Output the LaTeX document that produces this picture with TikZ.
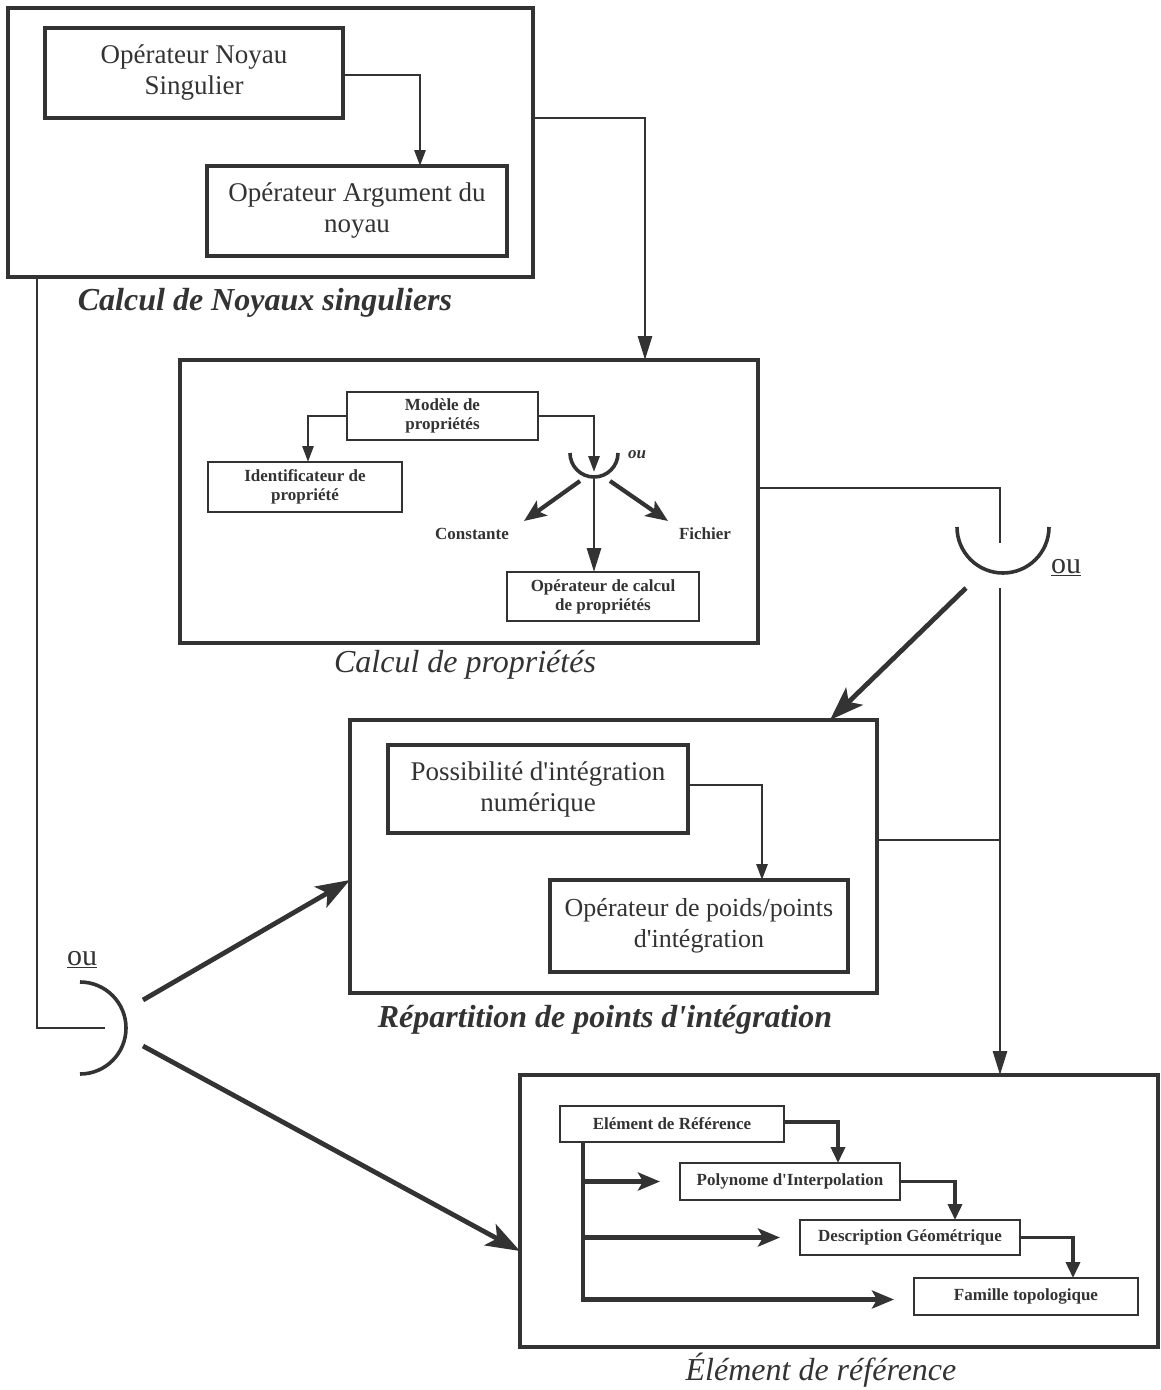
\documentclass[tikz,border=0pt]{standalone}
\usepackage{fontspec}
\setmainfont{Liberation Serif}
\usetikzlibrary{arrows.meta,calc}
\definecolor{ink}{rgb}{0.2,0.2,0.2}
\newcommand{\apos}{\textquotesingle}
\begin{document}
\begin{tikzpicture}[x=1pt,y=-1pt,
  every node/.style={text=ink},
  big/.style={draw=ink,line width=3.4pt,inner sep=0pt,outer sep=0pt},
  inbox/.style={draw=ink,line width=3.2pt,inner sep=0pt,outer sep=0pt,align=center,font=\fontsize{27}{31}\selectfont},
  smallbox/.style={draw=ink,line width=2.8pt,inner sep=0pt,outer sep=0pt,align=center,font=\bfseries\fontsize{17}{19}\selectfont},
  smalltxt/.style={font=\bfseries\fontsize{17}{19}\selectfont},
  conn/.style={draw=ink,line width=2.8pt},
  arcl/.style={draw=ink,line width=3.6pt},
  tarrow/.style={conn,-{Triangle[length=16pt,width=11pt]}},
  marrow/.style={draw=ink,line width=2.8pt,-{Triangle[length=24pt,width=14pt]}},
  karrow/.style={draw=ink,line width=4.8pt,-{Stealth[length=34pt,width=24pt,inset=8pt]}},
  carrow/.style={draw=ink,line width=4.2pt,-{Stealth[length=22pt,width=18pt,inset=5pt]}},
  barrow/.style={draw=ink,line width=3.6pt,-{Triangle[length=16pt,width=14pt]}},
  lab/.style={font=\fontsize{32}{36}\selectfont\itshape},
  blab/.style={font=\fontsize{32}{36}\selectfont\bfseries\itshape},
  oulab/.style={font=\fontsize{30}{34}\selectfont}
]
\fill[white] (0,0) rectangle (1161,1390);
\useasboundingbox (0,0) rectangle (1161,1390);

% ---------- Box 1
\node[big, minimum width=525, minimum height=269] (p1) at (270.5,142.5) {};
\node[inbox, minimum width=298, minimum height=90] (A) at (194,73) {Opérateur Noyau\\Singulier};
\node[inbox, minimum width=300, minimum height=90] (B) at (357,211) {Opérateur Argument du\\noyau};
\draw[tarrow] ($(A.east)+(0,2)$) -| ($(B.north west)+(213,0)$);
\node[blab] (l1) at (265,303) {Calcul de Noyaux singuliers};

% ---------- Box 2
\node[big, minimum width=578, minimum height=283] (p2) at (469,501.5) {};
\node[smallbox, minimum width=191, minimum height=48] (M) at (442.5,416) {Modèle de\\propriétés};
\node[smallbox, minimum width=194, minimum height=50] (I) at (305,487) {Identificateur de\\propriété};
\node[smallbox, minimum width=192, minimum height=49] (O) at (603,596.5) {Opérateur de calcul\\de propriétés};
\draw[tarrow] (M.west) -| ($(I.north west)+(100,0)$);
\coordinate (cupS) at (594,472);
\draw[tarrow] (M.east) -| (cupS);
\draw[arcl] (570,453) arc[start angle=180,end angle=360,radius=24pt];
\node[font=\bfseries\itshape\fontsize{17}{19}\selectfont] (ou1) at (637,455) {ou};
\node[smalltxt] (cst) at (472,534) {Constante};
\node[smalltxt] (fic) at (705,534) {Fichier};
\coordinate (cs1) at (580,481);
\coordinate (cs1e) at (524,521);
\coordinate (cs2) at (610,481);
\coordinate (cs2e) at (668,521);
\coordinate (cs3) at (594,479);
\draw[carrow] (cs1) -- (cs1e);
\draw[carrow] (cs2) -- (cs2e);
\draw[marrow] (cs3) -- ($(O.north west)+(87,0)$);
\node[lab] (l2) at (465,665) {Calcul de propriétés};

% Box1 -> Box2
\draw[marrow] ($(p1.north east)+(0,110)$) -| ($(p2.north west)+(465,0)$);

% ---------- Box 3
\node[big, minimum width=527, minimum height=273] (p3) at (613.5,856.5) {};
\node[inbox, minimum width=300, minimum height=88] (P) at (538,789) {Possibilité d\apos intégration\\numérique};
\node[inbox, minimum width=298, minimum height=92, font=\fontsize{26}{31}\selectfont] (W) at (699,926) {Opérateur de poids/points\\d\apos intégration};
\draw[tarrow] ($(P.east)+(0,-4)$) -| ($(W.north west)+(212,0)$);
\node[blab] (l3) at (605,1020) {Répartition de points d\apos intégration};

% ---------- Box 4
\node[big, minimum width=638, minimum height=272] (p4) at (839,1211) {};
\node[smallbox, minimum width=224, minimum height=36] (E) at (672,1124) {Elément de Référence};
\node[smallbox, minimum width=220, minimum height=37] (Po) at (790,1181.5) {Polynome d\apos Interpolation};
\node[smallbox, minimum width=220, minimum height=35] (D) at (910,1237.5) {Description Géométrique};
\node[smallbox, minimum width=224, minimum height=37] (F) at (1026,1296.5) {Famille topologique};
\draw[barrow] ($(E.east)+(0,-2)$) -| ($(Po.north west)+(158,0)$);
\draw[barrow] (Po.east) -| ($(D.north west)+(155,0)$);
\draw[barrow] (D.east) -| ($(F.north west)+(159,0)$);
\coordinate (trunk) at ($(E.south west)+(23,0)$);
\draw[carrow] (trunk) |- ($(F.west)+(-20,3)$);
\draw[carrow] (trunk |- Po.west) -- ($(Po.west)+(-20,0)$);
\draw[carrow] (trunk |- D.west) -- ($(D.west)+(-20,0)$);
\node[lab] (l4) at (821,1370) {Élément de référence};

% ---------- left "ou"
\coordinate (lend) at (105,1028);
\draw[conn] ($(p1.south west)+(29,0)$) |- (lend);
\draw[arcl] (80,982) arc[start angle=90,end angle=-90,radius=46pt];
\node[oulab] (ouL) at (82,960) {\underline{ou}};
\coordinate (cl1) at (143,1000);
\coordinate (cl2) at (143,1046);
\draw[karrow] (cl1) -- ($(p3.west)+(0,23.5)$);
\draw[karrow] (cl2) -- ($(p4.west)+(0,40)$);

% ---------- right "ou"
\coordinate (cupin) at (1000,543);
\draw[conn] ($(p2.north east)+(0,128)$) -| (cupin);
\draw[arcl] (957,527) arc[start angle=180,end angle=360,radius=46pt];
\node[oulab] (ouR) at (1066,568) {\underline{ou}};
\coordinate (cr1) at (966,588);
\coordinate (cr2) at (1000,588);
\draw[karrow] (cr1) -- ($(p3.north west)+(480,0)$);
\draw[marrow] (cr2) -- ($(p4.north west)+(480,0)$);
\coordinate (j3) at ($(p3.east)+(0,-16.5)$);
\draw[conn] (j3) -- (j3 -| cr2);
\end{tikzpicture}
\end{document}
